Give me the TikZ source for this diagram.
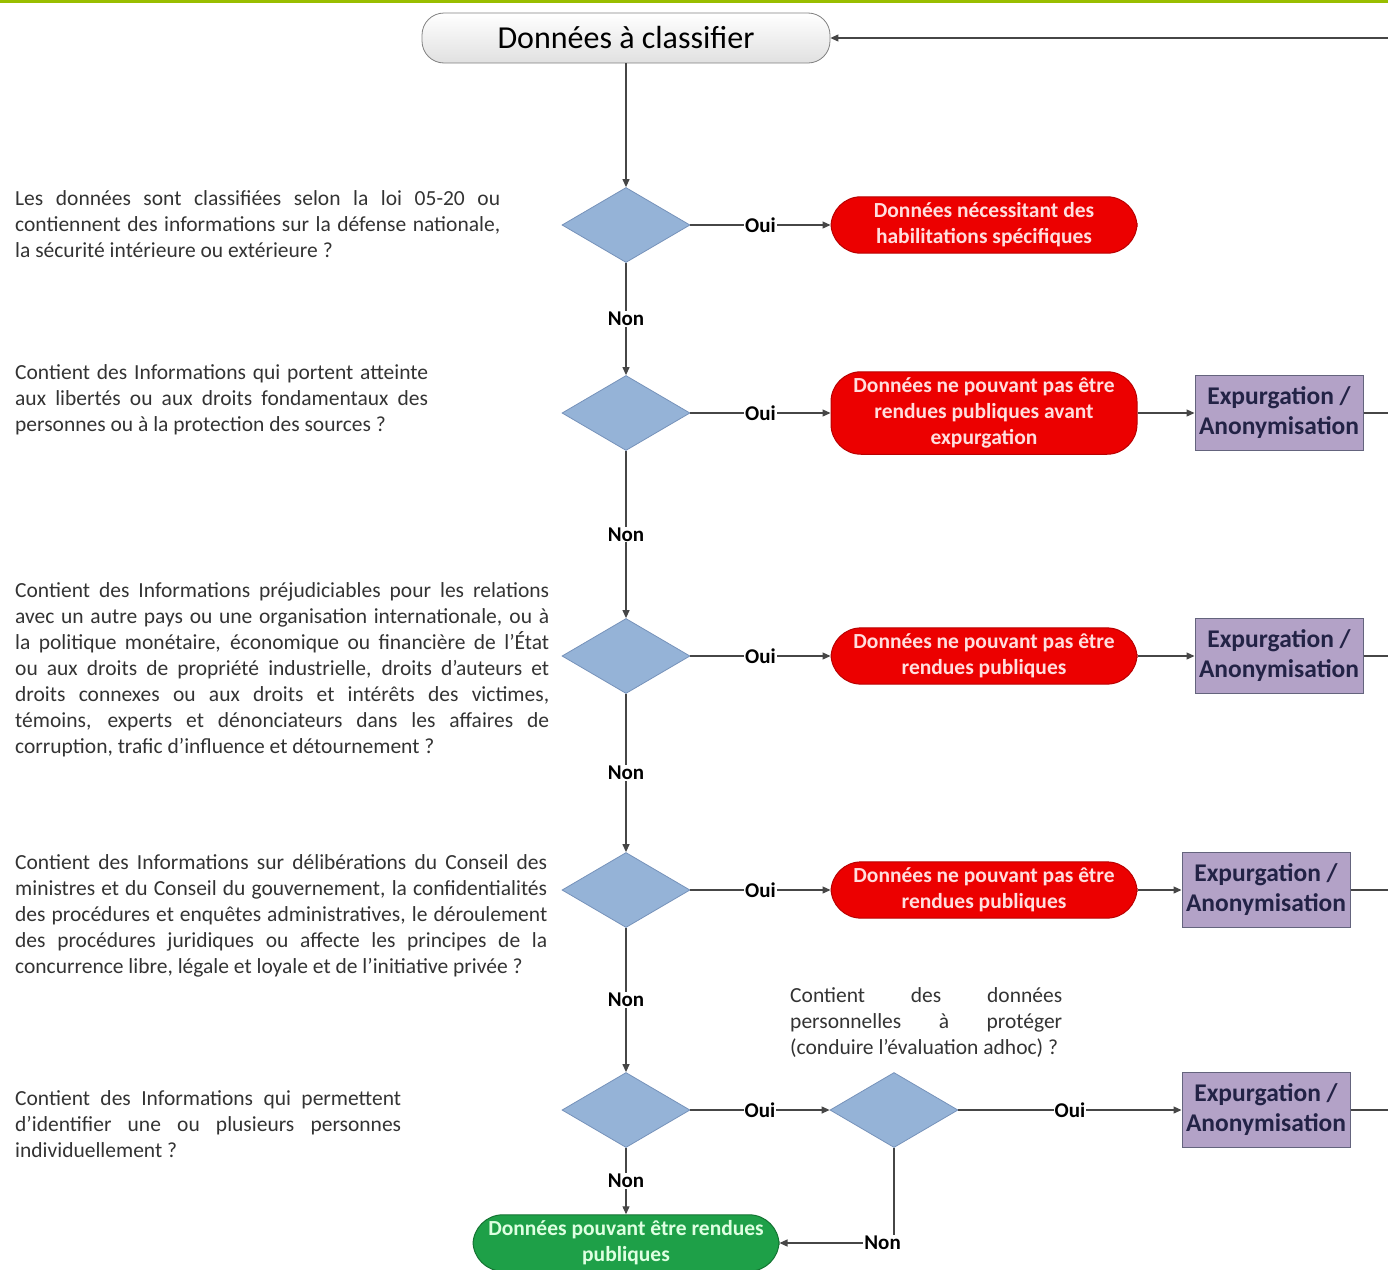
\documentclass[tikz,border=0pt]{standalone}
\usepackage{fontspec}
\setmainfont{Carlito}
\usetikzlibrary{shapes.geometric}
\usetikzlibrary{arrows.meta}
\usetikzlibrary{positioning}

\definecolor{bandeau}{RGB}{153,190,0}
\definecolor{losange}{RGB}{149,179,215}
\definecolor{losangebord}{RGB}{118,146,186}
\definecolor{rouge}{RGB}{236,0,0}
\definecolor{rougebord}{RGB}{185,0,0}
\definecolor{rougetexte}{RGB}{255,222,222}
\definecolor{vert}{RGB}{30,160,72}
\definecolor{vertbord}{RGB}{20,115,50}
\definecolor{verttexte}{RGB}{222,255,225}
\definecolor{mauve}{RGB}{179,162,199}
\definecolor{mauvebord}{RGB}{100,100,125}
\definecolor{mauvetexte}{RGB}{35,35,70}
\definecolor{trait}{RGB}{70,70,70}

\newcommand{\ligne}[2]{\makebox[#1][s]{#2}}

\tikzset{
    question/.style={anchor=west, inner sep=0pt, align=left, text=black!80,
        font=\fontsize{21.5}{26}\selectfont},
    choix/.style={diamond, draw=losangebord, fill=losange, line width=0.8pt,
        minimum width=128pt, minimum height=75pt, inner sep=0pt},
    refus/.style={rectangle, rounded corners=30pt, draw=rougebord, line width=1pt,
        fill=rouge, text=rougetexte, align=center, minimum width=306pt,
        inner ysep=6pt, font=\bfseries\fontsize{21.5}{26}\selectfont},
    public/.style={refus, draw=vertbord, fill=vert, text=verttexte},
    expurg/.style={rectangle, draw=mauvebord, fill=mauve, line width=1pt,
        text=mauvetexte, align=center, minimum width=168pt, minimum height=75pt,
        font=\bfseries\fontsize{25.5}{30}\selectfont},
    depart/.style={rectangle, rounded corners=22pt, draw=black!50, line width=0.8pt,
        top color=white, bottom color=black!12, minimum width=408pt,
        minimum height=50pt, font=\fontsize{32}{36}\selectfont},
    fleche/.style={draw=trait, line width=1.2pt, -{Triangle[length=8pt,width=7pt]}},
    trait/.style={draw=trait, line width=1.2pt},
    etiq/.style={fill=white, inner sep=1pt, text=black,
        font=\bfseries\fontsize{21}{24}\selectfont}
}

\begin{document}
\begin{tikzpicture}[x=1pt,y=-1pt]
    \useasboundingbox (0,0) rectangle (1388,1269);
    \fill[bandeau] (0,0) rectangle (1388,3);

    \node[depart] (titre) at (626,38) {Données à classifier};

    \node[choix] (q1) at (626,225) {};
    \node[choix] (q2) at (626,413) {};
    \node[choix] (q3) at (626,656) {};
    \node[choix] (q4) at (626,890) {};
    \node[choix] (q5) at (626,1110) {};
    \node[choix] (q6) at (894,1110) {};

    \node[refus] (r1) at (984,225) {Données nécessitant des\\habilitations spécifiques};
    \node[refus] (r2) at (984,413) {Données ne pouvant pas être\\rendues publiques avant\\expurgation};
    \node[refus] (r3) at (984,656) {Données ne pouvant pas être\\rendues publiques};
    \node[refus] (r4) at (984,890) {Données ne pouvant pas être\\rendues publiques};
    \node[public] (ok) at (626,1243) {Données pouvant être rendues\\publiques};

    \node[expurg] (e2) at (1279,413) {Expurgation /\\Anonymisation};
    \node[expurg] (e3) at (1279,656) {Expurgation /\\Anonymisation};
    \node[expurg] (e4) at (1266,890) {Expurgation /\\Anonymisation};
    \node[expurg] (e5) at (1266,1110) {Expurgation /\\Anonymisation};

    \coordinate (btitre) at (1388,38);
    \coordinate (b2) at (1388,413);
    \coordinate (b3) at (1388,656);
    \coordinate (b4) at (1388,890);
    \coordinate (b5) at (1388,1110);

    \node[question] (t1) at (15,224) {%
        \ligne{485pt}{Les données sont classifiées selon la loi 05-20 ou}\\
        \ligne{485pt}{contiennent des informations sur la défense nationale,}\\
        la sécurité intérieure ou extérieure ?};
    \node[question] (t2) at (15,400) {%
        \ligne{413pt}{Contient des Informations qui portent atteinte}\\
        \ligne{413pt}{aux libertés ou aux droits fondamentaux des}\\
        personnes ou à la protection des sources ?};
    \node[question] (t3) at (15,670) {%
        \ligne{534pt}{Contient des Informations préjudiciables pour les relations}\\
        \ligne{534pt}{avec un autre pays ou une organisation internationale, ou à}\\
        \ligne{534pt}{la politique monétaire, économique ou financière de l’État}\\
        \ligne{534pt}{ou aux droits de propriété industrielle, droits d’auteurs et}\\
        \ligne{534pt}{droits connexes ou aux droits et intérêts des victimes,}\\
        \ligne{534pt}{témoins, experts et dénonciateurs dans les affaires de}\\
        corruption, trafic d’influence et détournement ?};
    \node[question] (t4) at (15,916) {%
        \ligne{532pt}{Contient des Informations sur délibérations du Conseil des}\\
        \ligne{532pt}{ministres et du Conseil du gouvernement, la confidentialités}\\
        \ligne{532pt}{des procédures et enquêtes administratives, le déroulement}\\
        \ligne{532pt}{des procédures juridiques ou affecte les principes de la}\\
        concurrence libre, légale et loyale et de l’initiative privée ?};
    \node[question] (t5) at (15,1124) {%
        \ligne{386pt}{Contient des Informations qui permettent}\\
        \ligne{386pt}{d’identifier une ou plusieurs personnes}\\
        individuellement ?};
    \node[question] (t6) at (790,1023) {%
        \ligne{272pt}{Contient des données}\\
        \ligne{272pt}{personnelles à protéger}\\
        (conduire l’évaluation adhoc) ?};

    \draw[fleche] (btitre) -- (titre);
    \draw[fleche] (titre) -- (q1);
    \draw[fleche] (q1) -- node[etiq] {Oui} (r1);
    \draw[fleche] (q1) -- node[etiq] {Non} (q2);
    \draw[fleche] (q2) -- node[etiq] {Oui} (r2);
    \draw[fleche] (q2) -- node[etiq] {Non} (q3);
    \draw[fleche] (q3) -- node[etiq] {Oui} (r3);
    \draw[fleche] (q3) -- node[etiq] {Non} (q4);
    \draw[fleche] (q4) -- node[etiq] {Oui} (r4);
    \draw[fleche] (q4) -- node[etiq] {Non} (q5);
    \draw[fleche] (q5) -- node[etiq] {Oui} (q6);
    \draw[fleche] (q5) -- node[etiq] {Non} (ok);
    \draw[fleche] (q6) -- node[etiq] {Oui} (e5);
    \draw[fleche] (q6) |- node[etiq,pos=0.55] {Non} (ok);

    \draw[fleche] (r2) -- (e2);
    \draw[fleche] (r3) -- (e3);
    \draw[fleche] (r4) -- (e4);
    \draw[trait] (e2) -- (b2);
    \draw[trait] (e3) -- (b3);
    \draw[trait] (e4) -- (b4);
    \draw[trait] (e5) -- (b5);
\end{tikzpicture}
\end{document}
